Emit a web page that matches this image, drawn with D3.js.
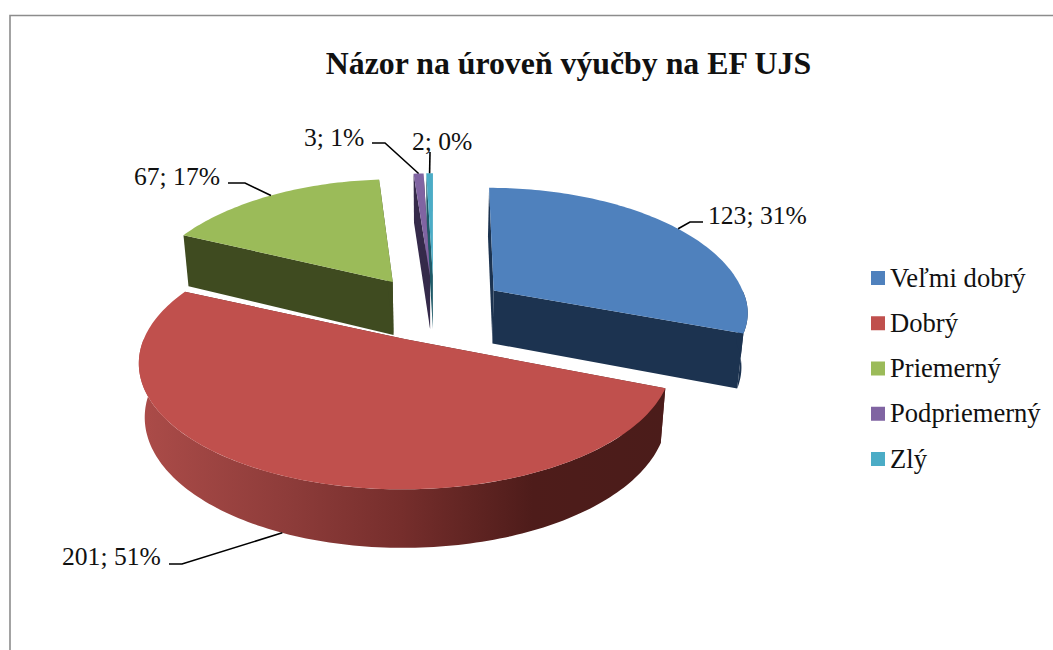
<!DOCTYPE html>
<html><head><meta charset="utf-8">
<style>html,body{margin:0;padding:0;background:#fff}svg{display:block}text{font-family:"Liberation Serif","Times New Roman",serif;fill:#111}</style>
<script src="https://cdn.jsdelivr.net/npm/d3@7/dist/d3.min.js"></script>
</head><body><svg id="c" width="1053" height="650"></svg>
<script>
const titleText = "Názor na úroveň výučby na EF UJS";
const categories = ["Veľmi dobrý","Dobrý","Priemerný","Podpriemerný","Zlý"];
const counts = [123,201,67,3,2];
const percents = [31,51,17,1,0];
const topColors = ["#4f81bd","#c0504d","#9bbb59","#8064a2","#4bacc6"];
const wallColors = ["#1c3350","#5a2322","#3f4b20","#352a4a","#1f5a68"];
const labelAnchors = [[708,224],[62,565],[134,185],[304,146],[412,150]];
const leaderElbows = [[[690,222],[703,222]],[[182,564],[169,564]],[[245,183],[228,183]],[[385,143],[372,143]],[[430,152]]];

const svg = d3.select("#c");
const W=1053,H=650, CX=434, CY=309, RX=262, RY=123, C=0.18, DEPTH=53, EX=72, EY=33;
const sx=d3.scaleLinear().domain([-1,1]).range([-RX,RX]);
const sy=d3.scaleLinear().domain([-1,1]).range([-RY,RY]);
const pie=d3.pie().sort(null).value(d=>d);
const arcs=pie(counts);

const defs=svg.append("defs");
const grad=defs.append("linearGradient").attr("id","redWall").attr("gradientUnits","userSpaceOnUse")
  .attr("x1",138).attr("x2",664).attr("y1",0).attr("y2",0);
[["0","#ac4c49"],["0.3","#8c3b39"],["0.5","#762e2c"],["0.75","#4e1c1a"],["1","#4b1c1a"]].forEach(s=>grad.append("stop").attr("offset",s[0]).attr("stop-color",s[1]));

function proj(a,t,mid,z){
  const X=Math.sin(a)*t, Y=-Math.cos(a)*t;
  const s=1/(1-C*Y);
  const ox=EX*Math.sin(mid), oy=-EY*Math.cos(mid);
  // slices that are pulled away to the back come out slightly smaller
  const back=Math.cos(mid)>0;
  const kx=back?0.95:1, ky=back?(Y>0?0.88:0.985):1;
  const px=CX+ox*(1+(s-1)*0.5)+sx(X)*s*kx;
  const py=CY+oy+sy(Y)*s*ky;
  // the lower rim sits further from the viewer, so it narrows toward the centre
  return z?[CX+(px-CX)*0.98, py+DEPTH*Math.sqrt(s)]:[px,py];
}
const line=d3.line();
function arcPts(a0,a1,mid,z){
  const n=Math.max(2,Math.ceil((a1-a0)/0.02));
  return d3.range(n+1).map(i=>proj(a0+(a1-a0)*i/n,1,mid,z));
}
svg.append("path").attr("d",line([[10,650],[10,15.5],[1053,15.5]])).attr("fill","none").attr("stroke","#8c8c8c").attr("stroke-width",1.6);

const order=[4,3,2,0,1];
order.forEach(i=>{
  const d=arcs[i], mid=(d.startAngle+d.endAngle)/2, a0=d.startAngle, a1=d.endAngle;
  const g=svg.append("g");
  const wall=wallColors[i];
  [a0,a1].forEach(a=>{
    g.append("path").attr("fill",wall).attr("d",line([proj(a,1,mid,0),proj(a,0,mid,0),proj(a,0,mid,1),proj(a,1,mid,1)])+"Z");
  });
  const f0=Math.max(a0,Math.PI/2), f1=Math.min(a1,Math.PI*1.5);
  if(f1>f0){
    const pts=arcPts(f0,f1,mid,0).concat(arcPts(f0,f1,mid,1).reverse());
    g.append("path").attr("fill",i===1?"url(#redWall)":wall).attr("d",line(pts)+"Z");
  }
  const topPts=[proj(0,0,mid,0)].concat(arcPts(a0,a1,mid,0));
  g.append("path").attr("fill",topColors[i]).attr("d",line(topPts)+"Z");
});

arcs.forEach((d,i)=>{
  const mid=(d.startAngle+d.endAngle)/2;
  const front=Math.cos(mid)<-0.5;
  const start=proj(mid,1,mid,front?1:0);
  svg.append("path").attr("fill","none").attr("stroke","#000").attr("stroke-width",1.6)
    .attr("d",line([start].concat(leaderElbows[i])));
  svg.append("text").attr("x",labelAnchors[i][0]).attr("y",labelAnchors[i][1]).attr("font-size",25.6)
    .text(counts[i]+"; "+percents[i]+"%");
});

const ly=d3.scalePoint().domain(categories).range([278,459]);
categories.forEach((c,i)=>{
  svg.append("rect").attr("x",871).attr("y",ly(c)-7).attr("width",14).attr("height",14).attr("fill",topColors[i]);
  svg.append("text").attr("x",890).attr("y",ly(c)+8.5).attr("font-size",26.6).text(c);
});
svg.append("text").attr("x",568.5).attr("y",74).attr("text-anchor","middle").attr("font-size",31.8).attr("font-weight","bold").text(titleText);
</script></body></html>
